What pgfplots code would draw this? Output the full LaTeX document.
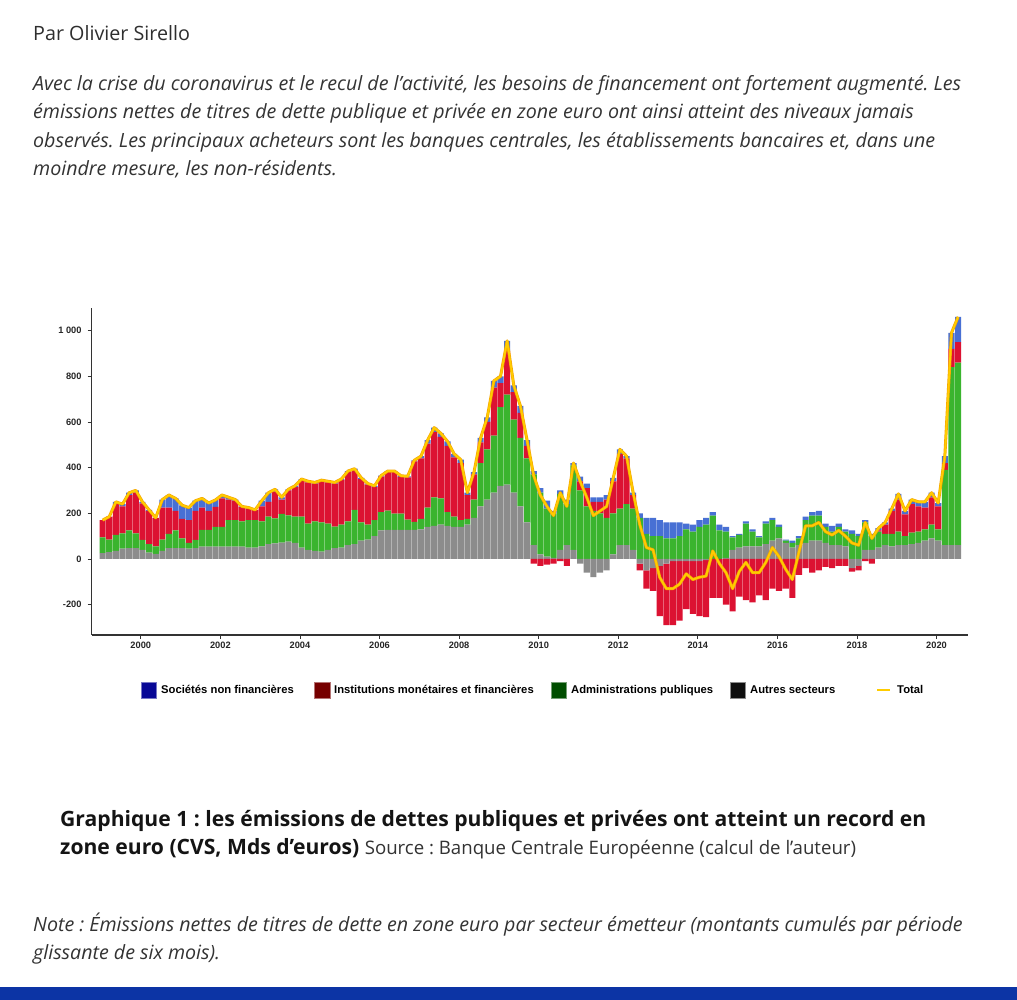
\documentclass[border=0pt]{standalone}
\usepackage{fontspec}
\setmainfont{Open Sans}
\newfontfamily\arial{Liberation Sans}
\usepackage{pgfplots}
\usepackage{pgfplotstable}
\pgfplotsset{compat=1.18}
\definecolor{cgray}{RGB}{140,140,140}
\definecolor{cgreen}{RGB}{58,180,46}
\definecolor{cred}{RGB}{220,18,50}
\definecolor{cblue}{RGB}{72,112,212}
\definecolor{ctotal}{RGB}{255,204,0}
\definecolor{corange}{RGB}{245,165,0}
\definecolor{lblue}{RGB}{8,8,150}
\definecolor{lred}{RGB}{118,0,0}
\definecolor{lgreen}{RGB}{0,78,0}
\definecolor{lblack}{RGB}{15,15,15}
\definecolor{barblue}{RGB}{12,52,165}
\newcommand\fs[1]{\fontsize{#1}{#1}\selectfont}
\frenchspacing

\pgfplotstableread{
x g a r b
0.5 25 70 75 0
2.5 30 55 100 0
4.5 35 70 135 10
6.5 45 67 118 10
8.5 47 78 155 10
10.5 47 65 178 10
12.5 40 43 160 7
14.5 28 37 145 5
16.5 22 33 125 0
18.5 35 50 140 35
20.5 47 63 115 55
22.5 47 78 85 55
24.5 47 43 85 60
26.5 45 25 100 55
28.5 47 36 127 45
30.5 54 73 98 40
32.5 54 73 83 35
34.5 54 87 87 30
36.5 54 87 124 15
38.5 54 116 90 10
40.5 54 116 85 5
42.5 54 111 62 3
44.5 50 120 50 5
46.5 50 120 45 0
48.5 55 110 65 25
50.5 65 120 65 40
52.5 68 110 117 10
54.5 72 125 63 10
56.5 76 115 109 5
58.5 70 115 130 5
60.5 50 135 160 5
62.5 40 115 180 5
64.5 35 130 165 5
66.5 32 128 180 5
68.5 40 115 180 5
70.5 47 95 188 5
72.5 50 100 195 5
74.5 60 105 215 5
76.5 65 150 175 5
78.5 80 80 190 5
80.5 85 65 175 5
82.5 100 70 145 5
84.5 125 80 155 5
86.5 127 85 168 5
88.5 127 72 181 5
90.5 127 72 160 5
92.5 127 45 185 5
94.5 127 35 265 5
96.5 130 45 265 10
98.5 140 85 280 15
100.5 145 125 285 20
102.5 150 115 270 15
104.5 145 60 290 20
106.5 140 45 260 15
108.5 140 30 250 15
110.5 150 25 105 10
112.5 180 80 110 10
114.5 230 190 90 20
116.5 260 220 120 20
118.5 290 250 210 30
120.5 320 345 105 30
122.5 325 395 190 45
124.5 290 320 120 30
126.5 230 300 110 30
128.5 160 280 55 25
130.5 60 310 -20 15
132.5 20 270 -30 20
134.5 10 210 -25 35
136.5 5 195 -20 10
138.5 40 245 -10 15
140.5 60 180 -30 20
142.5 40 370 0 10
144.5 -20 300 40 20
146.5 -60 230 80 20
148.5 -80 210 40 20
150.5 -60 200 50 20
152.5 -50 180 80 20
154.5 20 180 140 15
156.5 60 160 240 20
158.5 60 180 200 10
160.5 40 180 60 10
162.5 -20 180 -30 20
164.5 -50 110 -80 70
166.5 -40 100 -100 80
168.5 -30 100 -220 70
170.5 -20 90 -270 70
172.5 -10 90 -280 70
174.5 -10 100 -260 60
176.5 -10 130 -210 25
178.5 -10 120 -230 30
180.5 -10 140 -240 30
182.5 -5 150 -250 30
184.5 0 190 -170 15
186.5 0 125 -170 25
188.5 5 115 -200 20
190.5 40 55 -230 5
192.5 50 55 -165 5
194.5 55 100 -180 10
196.5 55 65 -190 10
198.5 55 40 -160 5
200.5 65 90 -180 10
202.5 80 90 -130 10
204.5 90 50 -140 10
206.5 70 10 -130 5
208.5 50 20 -170 10
210.5 60 30 -70 10
212.5 70 100 -40 15
214.5 80 110 -60 15
216.5 80 110 -50 20
218.5 70 70 -35 15
220.5 60 60 -40 25
222.5 60 80 -30 15
224.5 55 65 -30 10
226.5 -40 110 -15 15
228.5 -30 100 -20 10
230.5 40 120 -10 10
232.5 40 60 -20 10
234.5 50 70 5 10
236.5 60 50 40 10
238.5 55 55 100 10
240.5 60 60 140 25
242.5 60 40 95 15
244.5 65 50 125 20
246.5 70 50 110 20
248.5 80 50 95 25
250.5 90 60 120 20
252.5 80 50 100 15
254.5 60 330 30 30
256.5 60 780 80 70
258.5 60 800 90 110
}\data

\pgfplotsset{myaxis/.style={scale only axis, width=876bp, height=327bp,
  at={(91.7bp,365bp)}, anchor=south west,
  xmin=-2.8, xmax=261.4, ymin=-333, ymax=1099}}

\begin{document}
\begin{tikzpicture}[x=1bp,y=1bp]
\path[use as bounding box, fill=white] (0,0) rectangle (1017,1000);
\fill[barblue] (0,0) rectangle (1017,13);

% texts
\node[anchor=base west, inner sep=0, font=\fs{19.8}, text=black!82] at (33,959.3) {Par Olivier Sirello};
\begin{scope}[every node/.style={anchor=base west, inner sep=0, font=\itshape\fs{19.7}, text=black!80}]
\node at (33,909.3) {Avec la crise du coronavirus et le recul de l’activité, les besoins de financement ont fortement augmenté. Les};
\node at (33,881) {émissions nettes de titres de dette publique et privée en zone euro ont ainsi atteint des niveaux jamais};
\node at (33,852.3) {observés. Les principaux acheteurs sont les banques centrales, les établissements bancaires et, dans une};
\node at (33,824) {moindre mesure, les non-résidents.};
\node at (33,68.3) {Note : Émissions nettes de titres de dette en zone euro par secteur émetteur (montants cumulés par période};
\node at (33,40.7) {glissante de six mois).};
\end{scope}
\node[anchor=base west, inner sep=0, font=\bfseries\fs{21.2}, text=black!92] at (60,173.3) {Graphique 1 : les émissions de dettes publiques et privées ont atteint un record en};
\node[anchor=base west, inner sep=0, font=\fs{21.2}, text=black!92] at (60,145) {\textbf{zone euro (CVS, Mds d’euros)} {\fs{18.7}\color{black!80}Source : Banque Centrale Européenne (calcul de l’auteur)}};

% legend
\begin{scope}[every node/.style={anchor=base west, inner sep=0, font=\arial\bfseries\fs{11.3}, text=black}]
\fill[lblue, draw=lblue!55!white, line width=0.8] (141,302) rectangle (156,318);
\node at (161,306) {Sociétés non financières};
\fill[lred, draw=lred!55!white, line width=0.8] (314,302) rectangle (330,318);
\node at (334,306) {Institutions monétaires et financières};
\fill[lgreen, draw=lgreen!55!white, line width=0.8] (551,302) rectangle (566,318);
\node at (571,306) {Administrations publiques};
\fill[lblack, draw=black!45, line width=0.8] (730,302) rectangle (745,318);
\node at (750,306) {Autres secteurs};
\draw[ctotal, line width=3] (877,310) -- (890,310);
\node at (897,306) {Total};
\end{scope}

% positive stacks
\begin{axis}[myaxis, ybar stacked, bar width=1.85,
  axis lines=left, axis line style={-, draw=black!80, line width=1.3bp},
  tick align=outside, major tick length=4bp,
  tick style={draw=black!80, line width=0.8bp},
  xtick={12,36,...,252},
  xticklabels={2000,2002,2004,2006,2008,2010,2012,2014,2016,2018,2020},
  ytick={-200,0,...,1000},
  yticklabels={-200,0,200,400,600,800,1 000},
  tick label style={font=\arial\bfseries\fs{9.3}, text=black!85},
  yticklabel style={inner sep=1bp, xshift=-5bp},
  xticklabel style={inner sep=1bp, yshift=-1.5bp},
  ]
\addplot[fill=cgray, draw=none] table[x=x, y expr={max(\thisrow{g},0)}] {\data};
\addplot[fill=cgreen, draw=none] table[x=x, y expr={max(\thisrow{a},0)}] {\data};
\addplot[fill=cred, draw=none] table[x=x, y expr={max(\thisrow{r},0)}] {\data};
\addplot[fill=cblue, draw=none] table[x=x, y expr={max(\thisrow{b},0)}] {\data};
\end{axis}

% negative stacks
\begin{axis}[myaxis, hide axis, ybar stacked, bar width=1.85]
\addplot[fill=cgray, draw=none] table[x=x, y expr={min(\thisrow{g},0)}] {\data};
\addplot[fill=cred, draw=none] table[x=x, y expr={min(\thisrow{r},0)}] {\data};
\end{axis}

% total line
\begin{axis}[myaxis, hide axis]
\addplot[corange, line width=3bp, mark=none, line join=round] table[x=x, y expr={\thisrow{g}+\thisrow{a}+\thisrow{r}+\thisrow{b}}] {\data};
\addplot[ctotal, line width=1.8bp, mark=none, line join=round] table[x=x, y expr={\thisrow{g}+\thisrow{a}+\thisrow{r}+\thisrow{b}}] {\data};
\end{axis}
\end{tikzpicture}
\end{document}
